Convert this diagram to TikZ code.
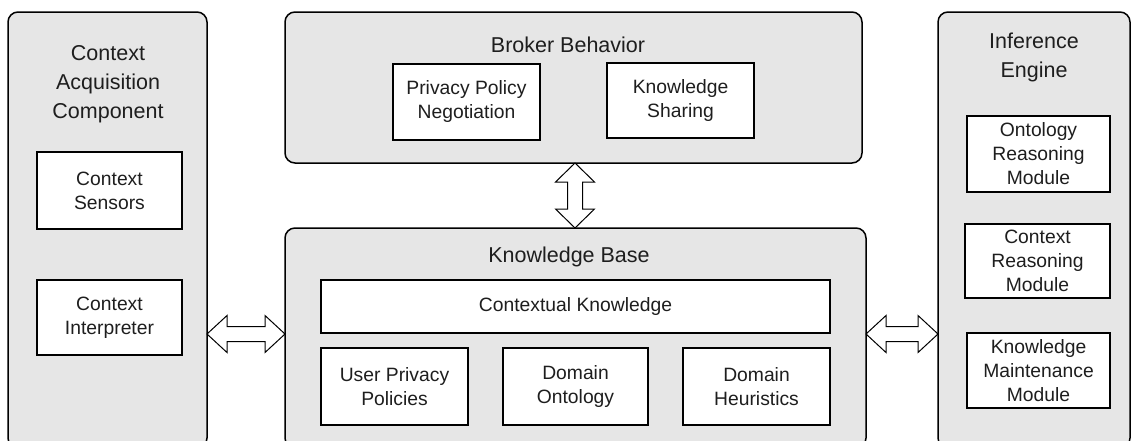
\documentclass[tikz,border=0pt]{standalone}
\usepackage{fontspec}
\setmainfont{Liberation Sans}
\usetikzlibrary{calc}
\definecolor{panelgray}{HTML}{E6E6E6}
\definecolor{inktext}{HTML}{1E1E1E}
\begin{document}
\begin{tikzpicture}[x=1pt,y=-1pt,
  panel/.style={draw=black, line width=1.5pt, fill=panelgray, rounded corners=10pt, inner sep=0pt, outer sep=0pt},
  boxnode/.style={draw=black, line width=1.3pt, fill=white, inner sep=0pt, outer sep=0pt, align=center,
     text=inktext, font=\fontsize{19.3}{24}\selectfont},
  titlenode/.style={inner sep=0pt, align=center, text=inktext, font=\fontsize{21.5}{29}\selectfont},
  blockarrow/.style={draw=black, line width=1pt, fill=white, line join=miter}
]
\clip (0,0) rectangle (1131,440);
\fill[white] (0,0) rectangle (1131,440);

% panels
\node[panel, minimum width=199pt, minimum height=436pt] (cac) at (107.5,230) {};
\node[panel, minimum width=577pt, minimum height=151pt] (bb) at (573.5,87.5) {};
\node[panel, minimum width=581pt, minimum height=220pt] (kb) at (575.5,338) {};
\node[panel, minimum width=192pt, minimum height=436pt] (ie) at (1034,230) {};

% titles
\node[titlenode] (cact) at (108,84) {Context\\Acquisition\\Component};
\node[titlenode] (bbt) at (568,45) {Broker Behavior};
\node[titlenode] (kbt) at (569,257) {Knowledge Base};
\node[titlenode] (iet) at (1034,57) {Inference\\Engine};

% left boxes
\node[boxnode, minimum width=145pt, minimum height=77pt] (sens) at (109.5,190.5) {Context\\Sensors};
\node[boxnode, minimum width=145pt, minimum height=75pt] (interp) at (109.5,317.5) {Context\\Interpreter};

% broker boxes
\node[boxnode, minimum width=147pt, minimum height=76pt] (ppn) at (466.5,102) {Privacy Policy\\Negotiation};
\node[boxnode, minimum width=147pt, minimum height=75pt] (ks) at (680.5,100.5) {Knowledge\\Sharing};

% knowledge base boxes
\node[boxnode, minimum width=509pt, minimum height=53pt] (ck) at (575.5,306.5) {Contextual Knowledge};
\node[boxnode, minimum width=147pt, minimum height=77pt] (upp) at (394.5,386.5) {User Privacy\\Policies};
\node[boxnode, minimum width=145pt, minimum height=77pt] (dont) at (575.5,386.5) {Domain\\Ontology};
\node[boxnode, minimum width=147pt, minimum height=77pt] (dheu) at (756.5,386.5) {Domain\\Heuristics};

% inference boxes
\node[boxnode, minimum width=143pt, minimum height=76pt] (orm) at (1038.5,154) {Ontology\\Reasoning\\Module};
\node[boxnode, minimum width=145pt, minimum height=74pt] (crm) at (1037.5,261) {Context\\Reasoning\\Module};
\node[boxnode, minimum width=143pt, minimum height=75pt] (kmm) at (1038.5,370.5) {Knowledge\\Maintenance\\Module};

% arrow anchors
\coordinate (ay) at (0,334);
\coordinate (ax) at (575,0);
\coordinate (L1) at (cac.east |- ay);
\coordinate (L2) at (kb.west |- ay);
\coordinate (R1) at (kb.east |- ay);
\coordinate (R2) at (ie.west |- ay);
\coordinate (V1) at (bb.south -| ax);
\coordinate (V2) at (kb.north -| ax);

% horizontal double arrows
\foreach \A/\B in {L1/L2, R1/R2}{
\draw[blockarrow] (\A) -- ($(\A)+(20,-18.5)$) -- ($(\A)+(20,-7.5)$) -- ($(\B)+(-20,-7.5)$)
  -- ($(\B)+(-20,-18.5)$) -- (\B) -- ($(\B)+(-20,18.5)$) -- ($(\B)+(-20,7.5)$)
  -- ($(\A)+(20,7.5)$) -- ($(\A)+(20,18.5)$) -- cycle;
}
% vertical double arrow
\draw[blockarrow] (V1) -- ($(V1)+(19.5,19)$) -- ($(V1)+(7.5,19)$) -- ($(V2)+(7.5,-19)$)
  -- ($(V2)+(19.5,-19)$) -- (V2) -- ($(V2)+(-19.5,-19)$) -- ($(V2)+(-7.5,-19)$)
  -- ($(V1)+(-7.5,19)$) -- ($(V1)+(-19.5,19)$) -- cycle;
\end{tikzpicture}
\end{document}
